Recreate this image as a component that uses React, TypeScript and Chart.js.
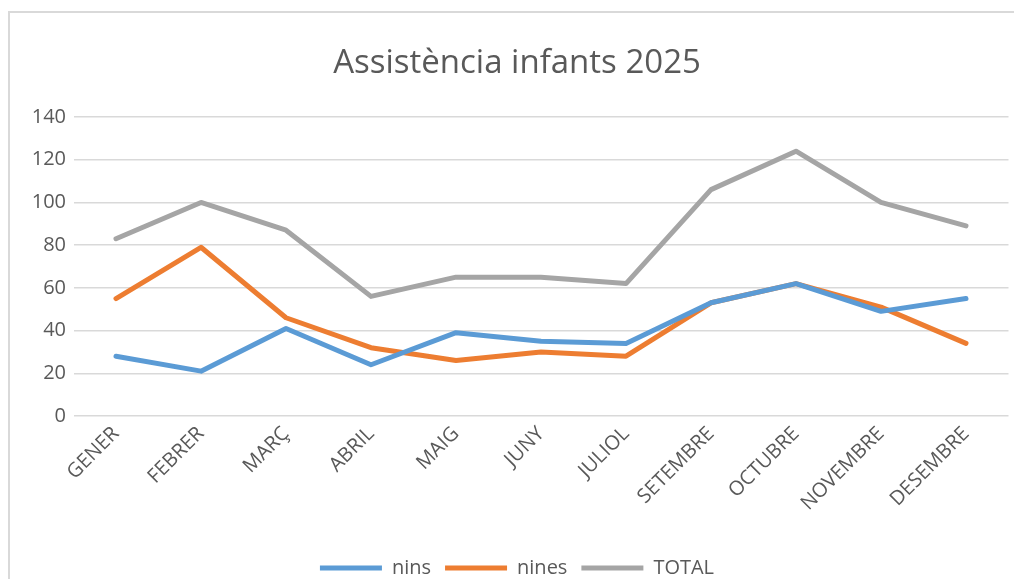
import React, { useEffect, useRef } from "react";
import { Chart, registerables } from "chart.js";

Chart.register(...registerables);

const categories = ["GENER", "FEBRER", "MARÇ", "ABRIL", "MAIG", "JUNY", "JULIOL", "SETEMBRE", "OCTUBRE", "NOVEMBRE", "DESEMBRE"];
const nins = [28, 21, 41, 24, 39, 35, 34, 53, 62, 49, 55];
const nines = [55, 79, 46, 32, 26, 30, 28, 53, 62, 51, 34];
const total = [83, 100, 87, 56, 65, 65, 62, 106, 124, 100, 89];
const yTicks = [0, 20, 40, 60, 80, 100, 120, 140];
const titleText = "Assistència infants 2025";

const FONT = "'Open Sans', 'Liberation Sans', sans-serif";
const TEXT = "#595959";

export default function App() {
  const ref = useRef<HTMLCanvasElement | null>(null);
  useEffect(() => {
    if (!ref.current) return;
    const chart = new Chart(ref.current, {
      type: "line",
      data: {
        labels: categories,
        datasets: [
          { label: "nins", data: nins, borderColor: "#5B9BD5", backgroundColor: "#5B9BD5" },
          { label: "nines", data: nines, borderColor: "#ED7D31", backgroundColor: "#ED7D31" },
          { label: "TOTAL", data: total, borderColor: "#A5A5A5", backgroundColor: "#A5A5A5" },
        ].map((d) => ({ ...d, borderWidth: 5, pointRadius: 0, tension: 0, borderCapStyle: "round" as const, borderJoinStyle: "round" as const })),
      },
      options: {
        animation: false,
        responsive: false,
        layout: { padding: { left: 16.5, right: 16.5, top: 32.2, bottom: 0 } },
        plugins: {
          title: {
            display: true,
            text: titleText,
            color: TEXT,
            font: { family: FONT, size: 33, weight: "normal" },
            padding: { top: 0, bottom: 33.2 },
          },
          legend: {
            position: "bottom",
            labels: {
              color: TEXT,
              font: { family: FONT, size: 20 },
              boxWidth: 62,
              boxHeight: 5,
              padding: 14,
              useBorderRadius: true,
              borderRadius: 2.5,
              generateLabels: (c: any) =>
                c.data.datasets.map((ds: any, i: number) => ({
                  text: ds.label,
                  fillStyle: ds.borderColor,
                  strokeStyle: ds.borderColor,
                  lineWidth: 0,
                  fontColor: TEXT,
                  datasetIndex: i,
                  hidden: false,
                })),
            },
          },
          tooltip: { enabled: false },
        },
        scales: {
          x: {
            offset: true,
            grid: { display: false, drawTicks: false },
            border: { display: false },
            afterFit: (axis: any) => {
              axis.height = 128;
            },
            ticks: {
              color: TEXT,
              font: { family: FONT, size: 20 },
              minRotation: 45,
              maxRotation: 45,
              padding: 6,
              autoSkip: false,
            },
          },
          y: {
            min: 0,
            max: 140,
            afterBuildTicks: (axis: any) => {
              axis.ticks = yTicks.map((v) => ({ value: v }));
            },
            afterFit: (axis: any) => {
              axis.width = 48;
            },
            grid: { color: "#D9D9D9", lineWidth: 1.5, drawTicks: false },
            border: { display: false },
            ticks: {
              color: TEXT,
              font: { family: FONT, size: 20 },
              padding: 7.5,
            },
          },
        },
      },
    });
    return () => chart.destroy();
  }, []);

  return (
    <div style={{ position: "fixed", left: 0, top: 0, width: 1014, height: 579, overflow: "hidden", background: "#fff" }}>
      <div
        style={{
          position: "absolute",
          left: 8,
          top: 11,
          width: 1040,
          height: 620,
          borderLeft: "2px solid #D9D9D9",
          borderTop: "2px solid #D9D9D9",
          boxSizing: "border-box",
        }}
      />
      <canvas ref={ref} width={1016} height={576} style={{ position: "absolute", left: 9, top: 12, width: 1016, height: 576 }} />
    </div>
  );
}
